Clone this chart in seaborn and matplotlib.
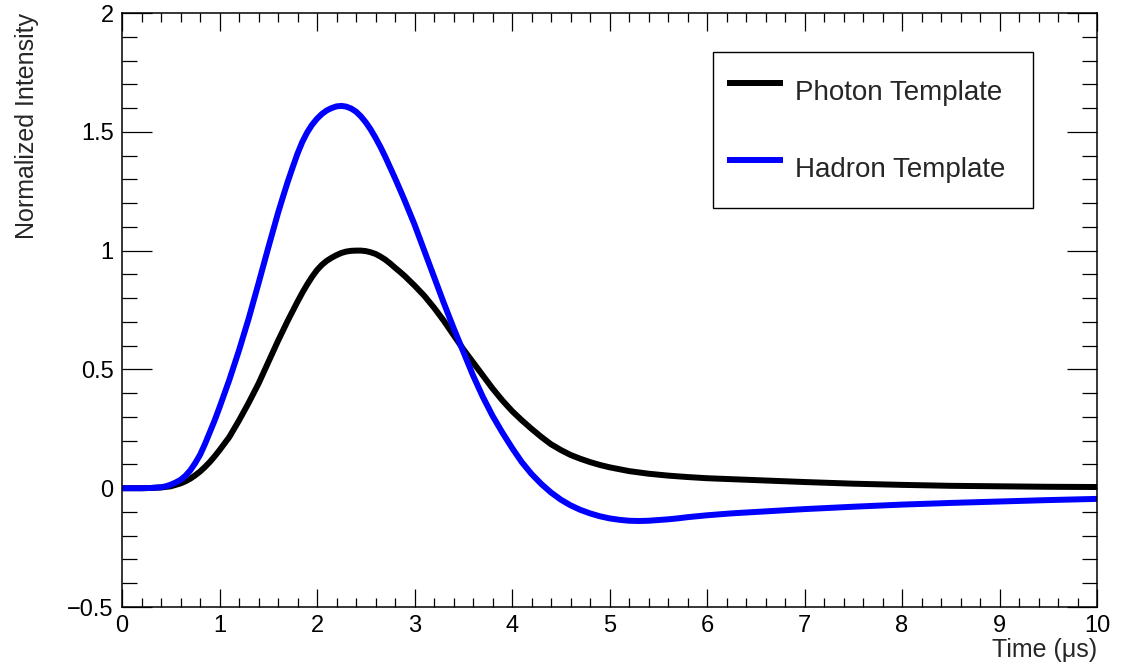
import matplotlib
matplotlib.use("Agg")
import matplotlib.pyplot as plt
from matplotlib.ticker import MultipleLocator, FuncFormatter
import seaborn as sns

# ---- data ----
t_photon = [0, 0.2, 0.3, 0.4, 0.5, 0.6, 0.65, 0.7, 0.75, 0.8, 0.85, 0.9, 0.95, 1.0,
            1.1, 1.2, 1.3, 1.4, 1.5, 1.6, 1.7, 1.75, 1.8, 1.85, 1.9, 1.95, 2.0,
            2.05, 2.1, 2.15, 2.2, 2.25, 2.3, 2.35, 2.4, 2.45, 2.5, 2.55, 2.6,
            2.65, 2.7, 2.75, 2.8, 2.85, 2.9, 2.95, 3.0, 3.1, 3.2, 3.3, 3.4, 3.5,
            3.6, 3.7, 3.8, 3.9, 4.0, 4.1, 4.2, 4.3, 4.4, 4.5, 4.6, 4.7, 4.8, 4.9,
            5.0, 5.2, 5.4, 5.6, 5.8, 6.0, 6.5, 7.0, 7.5, 8.0, 8.5, 9.0, 9.5, 10.0]
y_photon = [0, 0, 0.001, 0.003, 0.008, 0.02, 0.029, 0.04, 0.054, 0.07, 0.089, 0.11,
            0.134, 0.16, 0.215, 0.285, 0.36, 0.44, 0.53, 0.62, 0.705, 0.745,
            0.785, 0.823, 0.858, 0.89, 0.918, 0.94, 0.957, 0.97, 0.981, 0.99,
            0.996, 0.999, 1.0, 1.0, 0.998, 0.993, 0.986, 0.975, 0.962, 0.946,
            0.928, 0.911, 0.893, 0.873, 0.853, 0.81, 0.76, 0.705, 0.645, 0.585,
            0.53, 0.475, 0.42, 0.37, 0.325, 0.286, 0.25, 0.216, 0.185, 0.161,
            0.14, 0.124, 0.11, 0.098, 0.088, 0.072, 0.061, 0.053, 0.047, 0.042,
            0.034, 0.026, 0.019, 0.014, 0.01, 0.008, 0.006, 0.005]

t_hadron = [0, 0.2, 0.3, 0.4, 0.45, 0.5, 0.55, 0.6, 0.65, 0.7, 0.75, 0.8, 0.85, 0.9,
            0.95, 1.0, 1.1, 1.2, 1.3, 1.4, 1.5, 1.6, 1.65, 1.7, 1.75, 1.8, 1.85,
            1.9, 1.95, 2.0, 2.05, 2.1, 2.15, 2.2, 2.25, 2.3, 2.35, 2.4, 2.45, 2.5,
            2.55, 2.6, 2.65, 2.7, 2.75, 2.8, 2.85, 2.9, 3.0, 3.1, 3.2, 3.3, 3.4,
            3.5, 3.6, 3.7, 3.8, 3.9, 4.0, 4.1, 4.2, 4.3, 4.4, 4.5, 4.6, 4.7, 4.8,
            4.9, 5.0, 5.1, 5.2, 5.3, 5.4, 5.5, 5.6, 5.7, 5.8, 5.9, 6.0, 6.25, 6.5,
            7.0, 7.5, 8.0, 8.5, 9.0, 9.5, 10.0]
y_hadron = [0, 0, 0.001, 0.004, 0.008, 0.015, 0.024, 0.035, 0.052, 0.075, 0.105,
            0.14, 0.185, 0.235, 0.285, 0.34, 0.455, 0.58, 0.715, 0.862, 1.012,
            1.158, 1.225, 1.29, 1.35, 1.408, 1.458, 1.498, 1.53, 1.555, 1.575,
            1.59, 1.60, 1.607, 1.609, 1.606, 1.598, 1.585, 1.565, 1.54, 1.51,
            1.475, 1.437, 1.395, 1.35, 1.305, 1.258, 1.21, 1.11, 1.0, 0.89, 0.78,
            0.675, 0.575, 0.475, 0.385, 0.305, 0.235, 0.17, 0.11, 0.06, 0.018,
            -0.018, -0.048, -0.072, -0.091, -0.106, -0.118, -0.127, -0.133,
            -0.137, -0.138, -0.137, -0.134, -0.131, -0.127, -0.122, -0.118,
            -0.114, -0.106, -0.1, -0.088, -0.078, -0.069, -0.062, -0.056, -0.05,
            -0.045]

series_labels = ["Photon Template", "Hadron Template"]
x_title = "Time (\u03bcs)"
y_title = "Normalized Intensity"

assert len(t_photon) == len(y_photon)
assert len(t_hadron) == len(y_hadron)

# ---- style ----
sns.set_theme(style="ticks")
plt.rcParams["font.family"] = ["Liberation Sans", "DejaVu Sans"]

fig = plt.figure(figsize=(11.26, 6.63), dpi=100)
ax = fig.add_axes([122 / 1126, 56 / 663, 975 / 1126, 594 / 663])

sns.lineplot(x=t_photon, y=y_photon, ax=ax, color="black", linewidth=4.3,
             label=series_labels[0], sort=False, solid_joinstyle="round")
sns.lineplot(x=t_hadron, y=y_hadron, ax=ax, color="#0000ff", linewidth=4.3,
             label=series_labels[1], sort=False, solid_joinstyle="round")

ax.set_xlim(0, 10)
ax.set_ylim(-0.5, 2)

ax.xaxis.set_major_locator(MultipleLocator(1))
ax.xaxis.set_minor_locator(MultipleLocator(0.2))
ax.yaxis.set_major_locator(MultipleLocator(0.5))
ax.yaxis.set_minor_locator(MultipleLocator(0.1))
fmt = FuncFormatter(lambda v, p: ("%g" % v).replace("-", "\u2212"))
ax.xaxis.set_major_formatter(fmt)
ax.yaxis.set_major_formatter(fmt)

ax.tick_params(axis="both", which="both", direction="in", top=True, right=True,
               colors="black", width=0.9, labelsize=17)
ax.tick_params(axis="x", which="major", length=13, pad=6)
ax.tick_params(axis="x", which="minor", length=6.5)
ax.tick_params(axis="y", which="major", length=21.6, pad=6)
ax.tick_params(axis="y", which="minor", length=10.8)

for s in ax.spines.values():
    s.set_visible(True)
    s.set_color("black")
    s.set_linewidth(1.1)

ax.set_xlabel(x_title, fontsize=18, loc="right")
ax.set_ylabel(y_title, fontsize=18, loc="top")
ax.xaxis.set_label_coords(1.0, -0.053)
ax.yaxis.set_label_coords(-0.085, 1.0)

leg = ax.legend(loc="upper left", bbox_to_anchor=(0.606, 0.834, 0.328, 0.1),
                mode="expand", fontsize=20, frameon=True, fancybox=False,
                edgecolor="black", framealpha=1, handlelength=2.0,
                handleheight=2.4, labelspacing=0.96, borderpad=0.52,
                handletextpad=0.43, borderaxespad=0)
leg.get_frame().set_linewidth(1.0)
for line in leg.get_lines():
    line.set_linewidth(4.3)
    line.set_solid_capstyle("butt")

fig.savefig("out.png", dpi=100)
